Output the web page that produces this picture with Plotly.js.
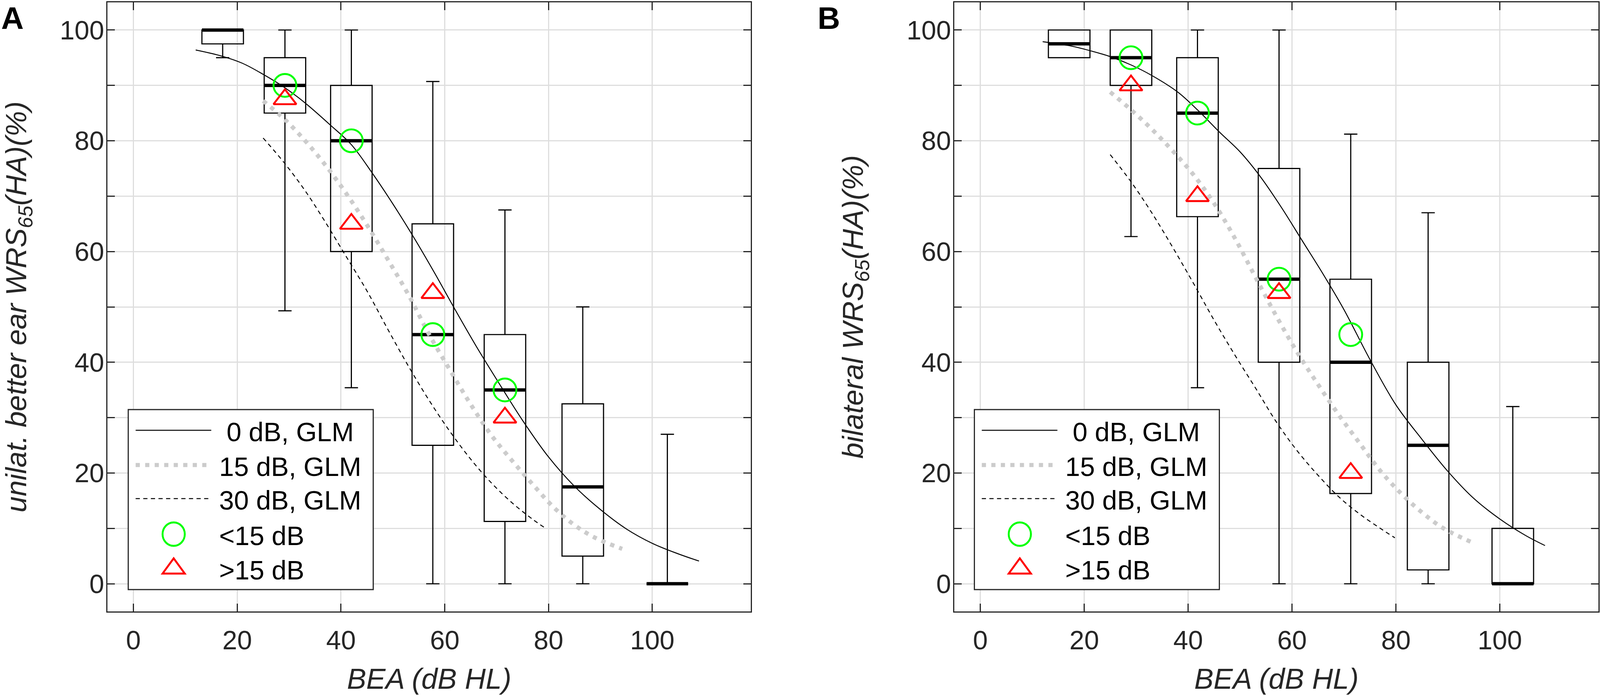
<!DOCTYPE html>
<html>
<head>
<meta charset="utf-8">
<script src="https://cdn.plot.ly/plotly-3.0.1.min.js"></script>
<style>
html,body{margin:0;padding:0;background:#fff;overflow:hidden;}
</style>
</head>
<body>
<div id="chart"></div>
<script>
// ---------------- DATA ----------------
// Panel A: unilateral better ear
const boxPosA  = [17.2, 29.2, 42.0, 57.7, 71.6, 86.6, 102.9];
const lowA     = [95, 49.3, 35.4, 0, 0, 0, 0];
const q1A      = [97.5, 85, 60, 25, 11.25, 5, 0];
const medA     = [100, 90, 80, 45, 35, 17.5, 0];
const q3A      = [100, 95, 90, 65, 45, 32.5, 0];
const highA    = [100, 100, 100, 90.7, 67.5, 50, 27];

const circXA = [29.2, 42.0, 57.7, 71.6];
const circYA = [90, 80, 45, 35];
const triXA  = [29.2, 42.0, 57.7, 71.6];
const triYA  = [87.5, 65, 52.5, 30];

const glm0XA  = [12, 17, 21, 25, 29, 33, 38, 42, 46, 50, 54, 58, 62, 66, 70, 75, 80, 85, 90, 95, 100, 105, 109];
const glm0YA  = [96.4, 95.3, 94.0, 92.0, 89.7, 86.9, 82.8, 79.3, 74.2, 68.6, 62.6, 56.2, 49.5, 43.0, 36.9, 29.5, 22.9, 17.6, 13.4, 9.9, 7.3, 5.4, 4.1];
const glm15XA = [25, 29, 33, 37, 41, 45, 49, 53, 57, 61, 65, 69, 73, 77, 81, 85, 89, 94.2];
const glm15YA = [87.2, 84.0, 80.1, 75.6, 70.5, 64.8, 58.6, 52.2, 45.0, 38.6, 32.4, 26.8, 22.2, 17.9, 13.8, 10.6, 8.3, 6.3];
const glm30XA = [25, 29, 33, 37, 41, 45, 49, 53, 57, 61, 65, 69, 73, 77, 79.3];
const glm30YA = [80.5, 76.1, 71.1, 65.3, 59.1, 52.9, 46.0, 39.3, 33.1, 27.5, 22.5, 18.2, 14.6, 11.6, 10.1];

// Panel B: bilateral
const boxPosB  = [17.1, 29.0, 41.8, 57.5, 71.3, 86.2, 102.5];
const lowB     = [95, 62.7, 35.4, 0, 0, 0, 0];
const q1B      = [95, 90, 66.3, 40, 16.3, 2.5, 0];
const medB     = [97.5, 95, 85, 55, 40, 25, 0];
const q3B      = [100, 100, 95, 75, 55, 40, 10];
const highB    = [100, 100, 100, 100, 81.2, 67, 32];

const circXB = [29.0, 41.8, 57.5, 71.3];
const circYB = [95, 85, 55, 45];
const triXB  = [29.0, 41.8, 57.5, 71.3];
const triYB  = [90, 70, 52.5, 20];

const glm0XB  = [12, 17, 21, 25, 29, 33, 38, 42, 46, 50, 54, 58, 62, 66, 70, 75, 80, 85, 90, 95, 100, 105, 108.7];
const glm0YB  = [97.9, 97.2, 96.3, 95.2, 93.7, 91.8, 88.8, 85.4, 81.6, 78.0, 73.4, 67.9, 61.9, 55.9, 49.5, 40.5, 32.3, 26.1, 20.3, 15.4, 11.7, 8.7, 6.9];
const glm15XB = [25, 29, 33, 37, 41, 45, 49, 53, 57, 61, 65, 69, 73, 77, 81, 85, 89, 94.8];
const glm15YB = [88.8, 85.6, 82.1, 78.2, 73.9, 68.7, 62.4, 55.3, 48.3, 41.8, 36.0, 30.5, 25.4, 20.4, 16.3, 12.9, 10.1, 7.4];
const glm30XB = [25, 29, 33, 37, 41, 45, 49, 53, 57, 61, 65, 69, 73, 77, 79.8];
const glm30YB = [77.5, 72.6, 67.0, 60.8, 54.3, 47.6, 41.3, 35.3, 29.2, 24.0, 19.6, 15.7, 12.6, 10.0, 8.3];

const xTickVals = [0, 20, 40, 60, 80, 100];
const xTickText = ['0', '20', '40', '60', '80', '100'];
const yTickVals = [0, 20, 40, 60, 80, 100];
const yTickText = ['0', '20', '40', '60', '80', '100'];
const yMinorVals = [10, 30, 50, 70, 90];

const legendLabels = ['\u00a00 dB, GLM', '15 dB, GLM', '30 dB, GLM', '<15 dB', '>15 dB'];
const xTitle = 'BEA (dB HL)';
const yTitleA = 'unilat. better ear WRS<sub>65</sub>(HA)(%)';
const yTitleB = 'bilateral WRS<sub>65</sub>(HA)(%)';

// ---------------- STYLE ----------------
const W = 4317, H = 1780;                 // reference picture size
const vw = window.innerWidth || W, vh = window.innerHeight || H;
const SX = vw / W, SY = vh / H;           // fit the real viewport
const SF = Math.sqrt(SX * SY);
function PX(v) { return v * SX; }
function PY(v) { return v * SY; }
function PF(v) { return v * SF; }

const FONT = 'Arial, "Liberation Sans", Helvetica, sans-serif';
const AXC = '#262626';
const GRIDC = '#dedede';
const BOXW = 8;
const GRAY = '#cccccc';
const DOTDASH = PF(11) + 'px,' + PF(14) + 'px';
const DASH = PF(11) + 'px,' + PF(9) + 'px';

function px(x) { return x / W; }
function py(y) { return 1 - y / H; }

function medianSegments(pos, med) {
  const xs = [], ys = [];
  for (let i = 0; i < pos.length; i++) {
    xs.push(pos[i] - BOXW / 2, pos[i] + BOXW / 2, null);
    ys.push(med[i], med[i], null);
  }
  return {x: xs, y: ys};
}

function panelTraces(xa, ya, pos, low, q1, med, q3, high, g0x, g0y, g15x, g15y, g30x, g30y, cx, cy, tx, ty) {
  const m = medianSegments(pos, med);
  return [
    {type: 'box', xaxis: xa, yaxis: ya, x: pos, q1: q1, median: med, q3: q3,
     lowerfence: low, upperfence: high, width: BOXW, whiskerwidth: 0.32,
     boxpoints: false, fillcolor: 'rgba(0,0,0,0)',
     line: {color: '#000000', width: PF(3)}, hoverinfo: 'skip', showlegend: false},
    {type: 'scatter', mode: 'lines', xaxis: xa, yaxis: ya, x: m.x, y: m.y,
     line: {color: '#000000', width: PY(8.5)}, hoverinfo: 'skip', showlegend: false},
    {type: 'scatter', mode: 'lines', xaxis: xa, yaxis: ya, x: g15x, y: g15y,
     line: {color: GRAY, width: PF(11), dash: DOTDASH, shape: 'spline', smoothing: 1},
     hoverinfo: 'skip', showlegend: false},
    {type: 'scatter', mode: 'lines', xaxis: xa, yaxis: ya, x: g30x, y: g30y,
     line: {color: '#000000', width: PF(2.5), dash: DASH, shape: 'spline', smoothing: 1},
     hoverinfo: 'skip', showlegend: false},
    {type: 'scatter', mode: 'lines', xaxis: xa, yaxis: ya, x: g0x, y: g0y,
     line: {color: '#000000', width: PF(2.5), shape: 'spline', smoothing: 1},
     hoverinfo: 'skip', showlegend: false},
    {type: 'scatter', mode: 'markers', xaxis: xa, yaxis: ya, x: cx, y: cy,
     marker: {symbol: 'circle-open', size: PF(60), color: '#00ff00', line: {color: '#00ff00', width: PF(5)}},
     hoverinfo: 'skip', showlegend: false},
    {type: 'scatter', mode: 'markers', xaxis: xa, yaxis: ya, x: tx, y: ty,
     marker: {symbol: 'triangle-up-open', size: PF(52), color: '#ff0000', line: {color: '#ff0000', width: PF(5)}},
     hoverinfo: 'skip', showlegend: false}
  ];
}

const traces = [].concat(
  panelTraces('x', 'y', boxPosA, lowA, q1A, medA, q3A, highA, glm0XA, glm0YA, glm15XA, glm15YA, glm30XA, glm30YA, circXA, circYA, triXA, triYA),
  panelTraces('x2', 'y2', boxPosB, lowB, q1B, medB, q3B, highB, glm0XB, glm0YB, glm15XB, glm15YB, glm30XB, glm30YB, circXB, circYB, triXB, triYB)
);

function xAxis(domain, anchor) {
  return {
    domain: domain, anchor: anchor, range: [-5, 119], tickmode: 'array', tickvals: xTickVals, ticktext: xTickText,
    ticks: 'inside', ticklen: PY(20), tickwidth: PX(3), tickcolor: AXC,
    showline: true, linewidth: PY(3), linecolor: AXC, mirror: 'ticks',
    showgrid: true, gridcolor: GRIDC, gridwidth: PX(3), zeroline: false,
    tickfont: {family: FONT, size: PF(70), color: AXC}, ticklabelstandoff: Math.round(PY(12)),
    title: {text: xTitle, font: {family: FONT, size: PF(76), color: AXC, style: 'italic'}, standoff: PY(56)},
    fixedrange: true
  };
}
function yAxis(titleText, anchor) {
  return {
    domain: [1 - 1566 / H, 1 - 6 / H], range: [-5, 105], anchor: anchor,
    tickmode: 'array', tickvals: yTickVals, ticktext: yTickText,
    ticks: 'inside', ticklen: PX(20), tickwidth: PY(3), tickcolor: AXC,
    minor: {tickvals: yMinorVals, ticks: 'inside', ticklen: PX(20), tickwidth: PY(3), tickcolor: AXC,
            showgrid: true, gridcolor: GRIDC, gridwidth: PY(3)},
    showline: true, linewidth: PX(3), linecolor: AXC, mirror: 'ticks',
    showgrid: true, gridcolor: GRIDC, gridwidth: PY(3), zeroline: false,
    tickfont: {family: FONT, size: PF(70), color: AXC}, ticklabelstandoff: Math.round(PX(-8)),
    title: {text: titleText, font: {family: FONT, size: PF(76), color: AXC, style: 'italic'}, standoff: PX(92)},
    fixedrange: true
  };
}

// legend drawn as shapes + annotations, reference-pixel positions converted to paper fractions
const shapes = [];
const annotations = [];
function addLegend(dx) {
  const bx0 = 346 + dx, bx1 = 1007 + dx, by0 = 1049, by1 = 1510;
  const rows = [1102, 1191, 1277, 1368, 1456];
  const sx0 = 366 + dx, sx1 = 570 + dx, cxp = 468.6 + dx, tx = 589 + dx;
  shapes.push({type: 'rect', xref: 'paper', yref: 'paper', x0: px(bx0), x1: px(bx1), y0: py(by1), y1: py(by0),
    line: {color: AXC, width: PF(3)}, fillcolor: '#ffffff', layer: 'above'});
  shapes.push({type: 'line', xref: 'paper', yref: 'paper', x0: px(sx0), x1: px(sx1), y0: py(rows[0]), y1: py(rows[0]),
    line: {color: '#000000', width: PF(2.5)}, layer: 'above'});
  shapes.push({type: 'line', xref: 'paper', yref: 'paper', x0: px(sx0), x1: px(sx1), y0: py(rows[1]), y1: py(rows[1]),
    line: {color: GRAY, width: PF(11), dash: DOTDASH}, layer: 'above'});
  shapes.push({type: 'line', xref: 'paper', yref: 'paper', x0: px(sx0), x1: px(sx1), y0: py(rows[2]), y1: py(rows[2]),
    line: {color: '#000000', width: PF(2.5), dash: DASH}, layer: 'above'});
  const r = 30;
  shapes.push({type: 'circle', xref: 'paper', yref: 'paper', x0: px(cxp - r), x1: px(cxp + r), y0: py(rows[3] + r), y1: py(rows[3] - r),
    line: {color: '#00ff00', width: PF(5)}, fillcolor: 'rgba(0,0,0,0)', layer: 'above'});
  const ty = rows[4], tr = 26, trt = tr * 2 / Math.sqrt(3);
  shapes.push({type: 'path', xref: 'paper', yref: 'paper',
    path: 'M' + px(cxp - trt) + ',' + py(ty + tr / 2) + ' L' + px(cxp + trt) + ',' + py(ty + tr / 2) + ' L' + px(cxp) + ',' + py(ty - tr) + ' Z',
    line: {color: '#ff0000', width: PF(5)}, fillcolor: 'rgba(0,0,0,0)', layer: 'above'});
  for (let i = 0; i < legendLabels.length; i++) {
    annotations.push({xref: 'paper', yref: 'paper', x: px(tx), y: py(rows[i] + 4), xanchor: 'left', yanchor: 'middle',
      text: legendLabels[i], showarrow: false, font: {family: FONT, size: PF(70), color: '#000000'}});
  }
}
addLegend(0);
addLegend(2283);

annotations.push({xref: 'paper', yref: 'paper', x: px(34), y: 1, xanchor: 'center', yanchor: 'top',
  text: '<b>A</b>', showarrow: false, font: {family: FONT, size: PF(82), color: '#000000'}});
annotations.push({xref: 'paper', yref: 'paper', x: px(2236), y: 1, xanchor: 'center', yanchor: 'top',
  text: '<b>B</b>', showarrow: false, font: {family: FONT, size: PF(82), color: '#000000'}});

const div = document.getElementById('chart');
div.style.width = vw + 'px';
div.style.height = vh + 'px';

const layout = {
  width: vw, height: vh,
  margin: {l: 0, r: 0, t: 0, b: 0, pad: 0},
  paper_bgcolor: '#ffffff', plot_bgcolor: '#ffffff',
  showlegend: false,
  font: {family: FONT, color: AXC},
  xaxis: xAxis([290 / W, 2026 / W], 'y'),
  yaxis: yAxis(yTitleA, 'x'),
  xaxis2: xAxis([2575 / W, 4313 / W], 'y2'),
  yaxis2: yAxis(yTitleB, 'x2'),
  shapes: shapes,
  annotations: annotations
};

Plotly.newPlot(div, traces, layout, {displayModeBar: false, staticPlot: true});
</script>
</body>
</html>
